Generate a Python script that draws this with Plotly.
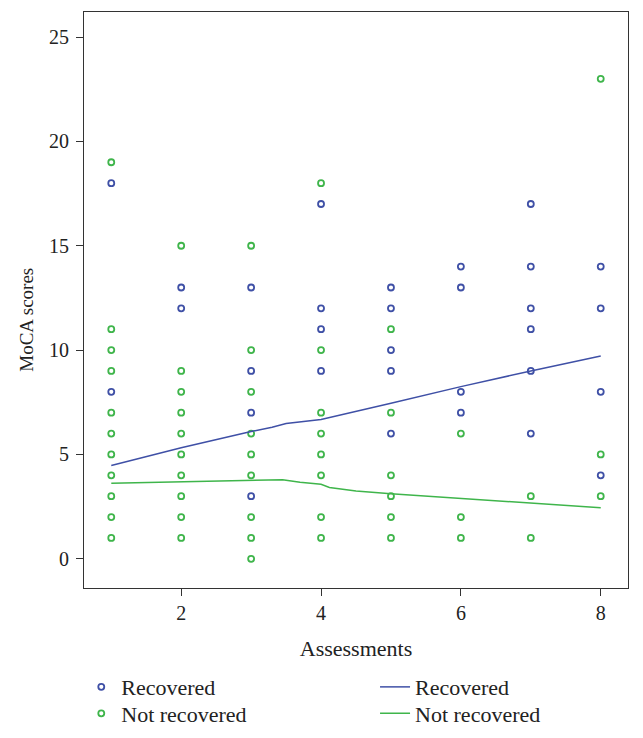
import plotly.graph_objects as go

BLUE = "#3f50a6"
GREEN = "#3fb54b"
FONT = "Liberation Serif"
TEXT = "#222222"

# observed MoCA scores per assessment
rec_x = [1, 1, 2, 2, 3, 3, 3, 3, 4, 4, 4, 4, 5, 5, 5, 5, 5,
         6, 6, 6, 6, 7, 7, 7, 7, 7, 7, 8, 8, 8, 8]
rec_y = [18, 8, 13, 12, 13, 9, 7, 3, 17, 12, 11, 9, 13, 12, 10, 9, 6,
         14, 13, 8, 7, 17, 14, 12, 11, 9, 6, 14, 12, 8, 4]

notrec_x = [1] * 11 + [2] * 10 + [3] * 9 + [4] * 8 + [5] * 6 + [6] * 3 + [7] * 2 + [8] * 3
notrec_y = [19, 11, 10, 9, 7, 6, 5, 4, 3, 2, 1,
            15, 9, 8, 7, 6, 5, 4, 3, 2, 1,
            15, 10, 8, 6, 5, 4, 2, 1, 0,
            18, 10, 7, 6, 5, 4, 2, 1,
            11, 7, 4, 3, 2, 1,
            6, 2, 1,
            3, 1,
            23, 5, 3]

# fitted trend lines
fit_rec_x = [1, 2, 3, 3.3, 3.5, 4, 5, 6, 7, 8]
fit_rec_y = [4.47, 5.32, 6.1, 6.3, 6.48, 6.67, 7.45, 8.25, 9.0, 9.72]
fit_notrec_x = [1, 2, 3, 3.3, 3.45, 3.7, 4.0, 4.12, 4.5, 5, 6, 7, 8]
fit_notrec_y = [3.62, 3.68, 3.74, 3.76, 3.79, 3.67, 3.57, 3.42, 3.25, 3.12, 2.9, 2.68, 2.44]

fig = go.Figure()
fig.add_trace(go.Scatter(
    x=rec_x, y=rec_y, mode="markers", name="Recovered", legend="legend",
    marker=dict(symbol="circle-open", size=6, color=BLUE, line=dict(width=1.8, color=BLUE)),
))
fig.add_trace(go.Scatter(
    x=notrec_x, y=notrec_y, mode="markers", name="Not recovered", legend="legend2",
    marker=dict(symbol="circle-open", size=6, color=GREEN, line=dict(width=1.8, color=GREEN)),
))
fig.add_trace(go.Scatter(
    x=fit_rec_x, y=fit_rec_y, mode="lines", name="Recovered", legend="legend3",
    line=dict(color=BLUE, width=1.5),
))
fig.add_trace(go.Scatter(
    x=fit_notrec_x, y=fit_notrec_y, mode="lines", name="Not recovered", legend="legend4",
    line=dict(color=GREEN, width=1.5),
))

axis_common = dict(
    showgrid=False, zeroline=False, showline=True, mirror=True,
    linecolor="#333333", linewidth=1, ticks="outside", ticklen=7,
    tickcolor="#333333", tickfont=dict(family=FONT, size=20, color=TEXT),
)
legend_common = dict(
    orientation="v", yanchor="middle", xanchor="left",
    font=dict(family=FONT, size=22, color=TEXT),
    bgcolor="rgba(0,0,0,0)", itemwidth=30,
)
row1, row2 = -0.172, -0.218
col1, col2 = -0.005, 0.535

# page body has an 8px margin, so the figure is 8px smaller than the window
fig.update_layout(
    width=635, height=730,
    margin=dict(l=76, r=15, t=4, b=146),
    paper_bgcolor="white", plot_bgcolor="white",
    showlegend=True,
    xaxis=dict(**axis_common, range=[0.61, 8.39], tickvals=[2, 4, 6, 8],
               title=dict(text="Assessments", font=dict(family=FONT, size=22, color=TEXT), standoff=17)),
    yaxis=dict(**axis_common, range=[-1.4, 26.2], tickvals=[0, 5, 10, 15, 20, 25], ticklabelstandoff=3),
    legend=dict(**legend_common, x=col1, y=row1),
    legend2=dict(**legend_common, x=col1, y=row2),
    legend3=dict(**legend_common, x=col2, y=row1),
    legend4=dict(**legend_common, x=col2, y=row2),
    annotations=[dict(
        text="MoCA scores", textangle=-90, xref="paper", yref="paper",
        x=-0.105, y=0.4655, xanchor="center", yanchor="middle", showarrow=False,
        font=dict(family=FONT, size=19, color=TEXT),
    )],
)

fig.write_html("out.html")
